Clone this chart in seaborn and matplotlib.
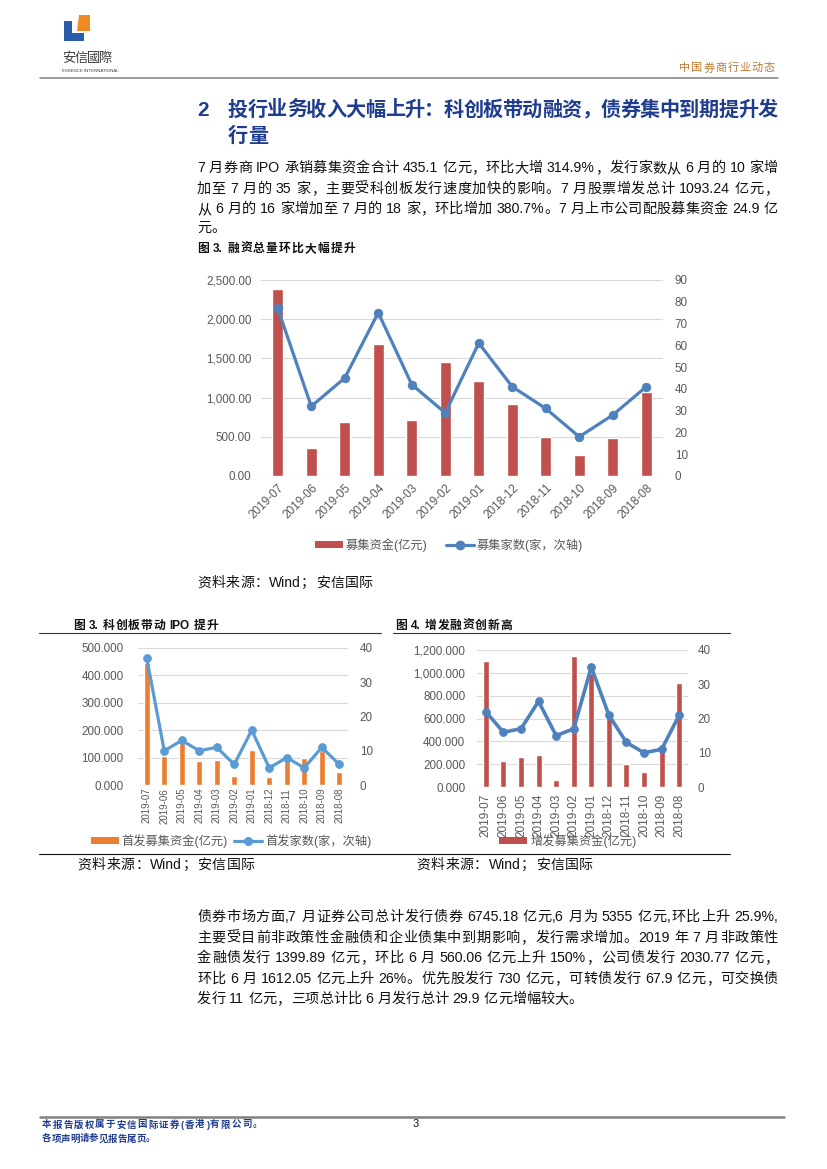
import numpy as np
import pandas as pd
import matplotlib
matplotlib.use("Agg")
import matplotlib.pyplot as plt
import seaborn as sns
from matplotlib.patches import Patch, Polygon
from matplotlib.lines import Line2D
from matplotlib.ticker import FuncFormatter

W, H = 827, 1169

### Dados
months = ["2019-07", "2019-06", "2019-05", "2019-04", "2019-03", "2019-02",
          "2019-01", "2018-12", "2018-11", "2018-10", "2018-09", "2018-08"]

total_funds = [2380, 360, 690, 1680, 715, 1455, 1210, 915, 500, 265, 490, 1070]
total_count = [77, 32, 45, 75, 42, 29, 61, 41, 31, 18, 28, 41]

ipo_funds = [445, 106, 155, 87, 92, 34, 126, 28, 90, 99, 125, 47]
ipo_count = [37, 10, 13, 10, 11, 6, 16, 5, 8, 5, 11, 6]

seo_funds = [1100, 226, 261, 282, 65, 1147, 1000, 620, 202, 132, 330, 912]
seo_count = [22, 16, 17, 25, 15, 17, 35, 21, 13, 10, 11, 21]

title_l1 = "投行业务收入大幅上升：科创板带动融资，债券集中到期提升发"
title_l2 = "行量"

para1 = [
    "7 月券商 IPO 承销募集资金合计 435.1 亿元，环比大增 314.9%，发行家数从 6 月的 10 家增",
    "加至 7 月的 35 家，主要受科创板发行速度加快的影响。7 月股票增发总计 1093.24 亿元，",
    "从 6 月的 16 家增加至 7 月的 18 家，环比增加 380.7%。7 月上市公司配股募集资金 24.9 亿",
    "元。",
]
para2 = [
    "债券市场方面,7 月证券公司总计发行债券 6745.18 亿元,6 月为 5355 亿元,环比上升 25.9%,",
    "主要受目前非政策性金融债和企业债集中到期影响，发行需求增加。2019 年 7 月非政策性",
    "金融债发行 1399.89 亿元，环比 6 月 560.06 亿元上升 150%，公司债发行 2030.77 亿元，",
    "环比 6 月 1612.05 亿元上升 26%。优先股发行 730 亿元，可转债发行 67.9 亿元，可交换债",
    "发行 11 亿元，三项总计比 6 月发行总计 29.9 亿元增幅较大。",
]
source = "资料来源：Wind；安信国际"

BLUE = "#1F3C8F"
GREY = "#595959"

sns.set_theme(style="white")
plt.rcParams["font.family"] = ["Liberation Sans", "Noto Sans CJK SC", "DejaVu Sans"]

fig = plt.figure(figsize=(W / 100, H / 100), dpi=100)
page = fig.add_axes([0, 0, 1, 1])
page.set_xlim(0, W)
page.set_ylim(H, 0)
page.axis("off")
rend = fig.canvas.get_renderer()


def split_units(s):
    units, buf, gap = [], "", False
    for ch in s:
        if ch == " ":
            if buf:
                units.append((buf, gap))
                buf = ""
            gap = True
        elif ord(ch) < 128:
            buf += ch
        else:
            if buf:
                units.append((buf, gap))
                buf = ""
                gap = False
            units.append((ch, gap))
            gap = False
    if buf:
        units.append((buf, gap))
    return units


### Linha de texto justificada
def put_line(s, x0, y, x1=None, fontsize=10.2, **kw):
    units = split_units(s)
    em = fontsize * fig.dpi / 72
    texts, widths = [], []
    for u, g in units:
        t = page.text(x0, y, u, va="center", ha="left", fontsize=fontsize, **kw)
        if ord(u[0]) < 128:
            w = t.get_window_extent(rend).width
        else:
            w = em
        texts.append(t)
        widths.append(w)
    sp = em * 0.28
    natural = sum(widths) + sp * sum(1 for _, g in units if g)
    extra = 0
    if x1 is not None and len(units) > 1:
        extra = (x1 - x0 - natural) / (len(units) - 1)
    x = x0
    for i, ((u, g), t, w) in enumerate(zip(units, texts, widths)):
        if i > 0:
            x += extra + (sp if g else 0)
        t.set_x(x)
        x += w


def box(x0, y0, x1, y1):
    return [x0 / W, 1 - y1 / H, (x1 - x0) / W, (y1 - y0) / H]


### Gráfico de barras + linha
def combo(rect, funds, count, bar_color, line_color, ymax, ystep, y2max, y2step,
          fmt, rot, xfs, xpad, lpad, rpad, bar_w, lw, ms):
    ax = fig.add_axes(box(*rect))
    df = pd.DataFrame({"month": months, "funds": funds})
    sns.barplot(data=df, x="month", y="funds", color=bar_color, width=bar_w,
                saturation=1, ax=ax)
    ax2 = ax.twinx()
    sns.lineplot(x=np.arange(len(months)), y=count, color=line_color, lw=lw,
                 marker="o", markersize=ms, markeredgecolor=line_color, ax=ax2)
    ax.set_xlim(-0.5, len(months) - 0.5)
    ax.set_ylim(0, ymax)
    ax.set_yticks(np.arange(0, ymax + 1, ystep))
    ax.yaxis.set_major_formatter(FuncFormatter(lambda v, _: fmt.format(v)))
    ax2.set_ylim(0, y2max)
    ax2.set_yticks(np.arange(0, y2max + 1, y2step))
    ax.grid(axis="y", color="#D9D9D9", lw=0.8)
    ax.grid(axis="x", visible=False)
    ax2.grid(False)
    ax.set_axisbelow(True)
    for a in (ax, ax2):
        for s in a.spines.values():
            s.set_visible(False)
        a.set_xlabel("")
        a.set_ylabel("")
        a.set_facecolor("none")
    ax.tick_params(axis="y", length=0, pad=lpad, labelsize=8.4, labelcolor=GREY)
    ax2.tick_params(axis="y", length=0, pad=rpad, labelsize=8.4, labelcolor=GREY)
    ax.tick_params(axis="x", length=0, pad=xpad, labelsize=xfs, labelcolor=GREY)
    if rot == 45:
        plt.setp(ax.get_xticklabels(), rotation=45, ha="right", rotation_mode="anchor")
    else:
        plt.setp(ax.get_xticklabels(), rotation=90)
    return ax


combo((261, 280, 663, 476), total_funds, total_count, "#C0504D", "#4F81BD",
      2500, 500, 90, 10, "{:,.2f}", 45, 8.5, 4, 7, 8.5, 0.33, 2.3, 6)
combo((138, 648, 348, 785), ipo_funds, ipo_count, "#ED7D31", "#5B9BD5",
      500, 100, 40, 10, "{:.3f}", 90, 7, 2, 10.5, 8.5, 0.35, 2.3, 5.5)
combo((477, 650, 688, 787), seo_funds, seo_count, "#C0504D", "#4F81BD",
      1200, 200, 40, 10, "{:,.3f}", 90, 8.5, 5, 8.5, 7, 0.34, 2.6, 5.5)

### Legendas
def leg(handles, labels, x, y, colsp):
    fig.legend(handles, labels, loc="center", bbox_to_anchor=(x / W, 1 - y / H),
               ncol=len(handles), frameon=False, fontsize=8.8, labelcolor=GREY,
               handlelength=2.3, handleheight=0.6, handletextpad=0.25,
               columnspacing=colsp, borderaxespad=0, borderpad=0)


leg([Patch(fc="#C0504D", ec="none"),
     Line2D([], [], color="#4F81BD", lw=2.3, marker="o", ms=6)],
    ["募集资金(亿元)", "募集家数(家，次轴)"], 449, 545, 1.5)
leg([Patch(fc="#ED7D31", ec="none"),
     Line2D([], [], color="#5B9BD5", lw=2.3, marker="o", ms=5.5)],
    ["首发募集资金(亿元)", "首发家数(家，次轴)"], 231, 841, 0.5)
leg([Patch(fc="#C0504D", ec="none")], ["增发募集资金(亿元)"], 568, 841, 0.5)

### Cabeçalho
page.add_patch(Polygon([(79, 15), (90, 15), (90, 31), (77, 31)], closed=True,
                       fc="#F08A24", ec="none"))
page.add_patch(Polygon([(64, 21), (72, 21), (72, 33), (84, 33), (84, 41), (64, 41)],
                       closed=True, fc="#2A5CAA", ec="none"))
put_line("安信國際", 62, 59, 112, fontsize=9.5, color="#3C3C3C")
page.text(62, 71, "ESSENCE INTERNATIONAL", fontsize=3.2, color="#3C3C3C",
          va="center", ha="left")
put_line("中国券商行业动态", 679, 68, 775, fontsize=8, color="#C07A32")
page.plot([40, 778], [78, 78], color="#7F7F7F", lw=1.1)

### Texto
page.text(197, 110, "2", fontsize=15, fontweight="bold", color=BLUE, va="center")
put_line(title_l1, 228, 110, 778, fontsize=14.5, fontweight="bold", color=BLUE)
put_line(title_l2, 228, 136, fontsize=14.5, fontweight="bold", color=BLUE)

ys = [168, 189, 209, 228]
for i, (s, y) in enumerate(zip(para1, ys)):
    put_line(s, 197, y, 778 if i < len(para1) - 1 else None, color="#111111")

put_line("图 3. 融资总量环比大幅提升", 197, 249, 355, fontsize=8.5, fontweight="bold",
         color="#111111")
put_line(source, 197, 583, 373, fontsize=10, color="#111111")

put_line("图 3. 科创板带动 IPO 提升", 73, 626, 218, fontsize=8.5, fontweight="bold",
         color="#111111")
put_line("图 4. 增发融资创新高", 395, 626, 512, fontsize=8.5, fontweight="bold",
         color="#111111")
page.plot([39, 381], [633, 633], color="#333333", lw=0.8)
page.plot([393, 730], [633, 633], color="#333333", lw=0.8)
page.plot([39, 730], [854, 854], color="#111111", lw=0.8)
put_line(source, 77, 865, 255, fontsize=10, color="#111111")
put_line(source, 416, 865, 593, fontsize=10, color="#111111")

ys = [917, 938, 958, 979, 999]
for i, (s, y) in enumerate(zip(para2, ys)):
    put_line(s, 197, y, 778 if i < len(para2) - 1 else None, color="#111111")

### Rodapé
page.plot([40, 784], [1117, 1117], color="#808080", lw=1.8)
put_line("本报告版权属于安信国际证券(香港)有限公司。", 42, 1125, 262, fontsize=6.8,
         fontweight="bold", color=BLUE)
put_line("各项声明请参见报告尾页。", 42, 1139, fontsize=6.8, fontweight="bold", color=BLUE)
page.text(413, 1124, "3", fontsize=8, color="#111111", va="center")

fig.savefig("out.png", dpi=100)
